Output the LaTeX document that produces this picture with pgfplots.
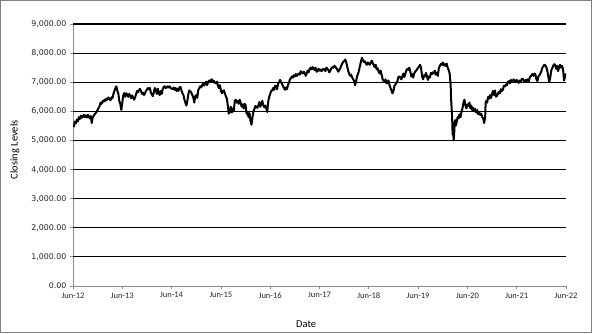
\documentclass[border=0pt]{standalone}
\usepackage{pgfplots}
\pgfplotsset{compat=1.18}
\usepackage{pgfplotstable}
\usepackage{fontspec}
\setmainfont{Carlito}
\newfontfamily\vera{DejaVu Sans}
\pgfplotstableread{
x y
2012.50 5560
2012.52 5480
2012.54 5650
2012.56 5590
2012.58 5720
2012.60 5660
2012.62 5800
2012.64 5740
2012.66 5850
2012.68 5780
2012.70 5820
2012.72 5880
2012.74 5800
2012.76 5860
2012.78 5790
2012.80 5880
2012.82 5820
2012.84 5760
2012.86 5840
2012.88 5600
2012.90 5790
2012.92 5850
2012.94 5900
2012.96 5940
2012.98 5980
2013.00 6050
2013.02 6120
2013.04 6180
2013.06 6300
2013.08 6260
2013.10 6350
2013.12 6330
2013.14 6400
2013.16 6360
2013.18 6440
2013.20 6400
2013.22 6480
2013.24 6420
2013.26 6380
2013.28 6480
2013.30 6450
2013.32 6600
2013.34 6700
2013.36 6800
2013.38 6860
2013.40 6700
2013.42 6600
2013.44 6350
2013.46 6250
2013.48 6050
2013.50 6300
2013.52 6550
2013.54 6630
2013.56 6500
2013.58 6620
2013.60 6580
2013.62 6500
2013.64 6600
2013.66 6540
2013.68 6450
2013.70 6550
2013.72 6470
2013.74 6400
2013.76 6480
2013.78 6600
2013.80 6700
2013.82 6650
2013.84 6740
2013.86 6770
2013.88 6690
2013.90 6600
2013.92 6640
2013.94 6560
2013.96 6620
2013.98 6700
2014.00 6750
2014.02 6800
2014.04 6760
2014.06 6800
2014.08 6640
2014.10 6580
2014.12 6520
2014.14 6660
2014.16 6800
2014.18 6720
2014.20 6600
2014.22 6780
2014.24 6620
2014.26 6560
2014.28 6700
2014.30 6600
2014.32 6760
2014.34 6840
2014.36 6860
2014.38 6800
2014.40 6820
2014.42 6860
2014.44 6820
2014.46 6860
2014.48 6800
2014.50 6780
2014.52 6760
2014.54 6820
2014.56 6740
2014.58 6800
2014.60 6700
2014.62 6780
2014.64 6700
2014.66 6820
2014.68 6840
2014.70 6720
2014.72 6620
2014.74 6560
2014.76 6400
2014.78 6300
2014.80 6200
2014.82 6360
2014.84 6600
2014.86 6720
2014.88 6680
2014.90 6640
2014.92 6560
2014.94 6480
2014.96 6300
2014.98 6520
2015.00 6560
2015.02 6460
2015.04 6720
2015.06 6800
2015.08 6860
2015.10 6820
2015.12 6900
2015.14 6960
2015.16 6880
2015.18 6960
2015.20 7020
2015.22 6900
2015.24 7000
2015.26 7060
2015.28 7000
2015.30 7080
2015.32 7100
2015.34 7000
2015.36 7040
2015.38 6980
2015.40 6960
2015.42 7020
2015.44 6880
2015.46 6800
2015.48 6900
2015.50 6720
2015.52 6620
2015.54 6700
2015.56 6720
2015.58 6620
2015.60 6520
2015.62 6440
2015.64 6200
2015.66 5920
2015.68 6000
2015.70 6160
2015.72 5960
2015.74 6100
2015.76 6000
2015.78 6340
2015.80 6400
2015.82 6300
2015.84 6360
2015.86 6260
2015.88 6400
2015.90 6300
2015.92 6160
2015.94 6240
2015.96 6100
2015.98 6260
2016.00 6220
2016.02 5920
2016.04 5980
2016.06 5800
2016.08 5940
2016.10 5680
2016.12 5540
2016.14 5780
2016.16 6000
2016.18 6080
2016.20 6180
2016.22 6160
2016.24 6120
2016.26 6200
2016.28 6320
2016.30 6160
2016.32 6260
2016.34 6360
2016.36 6200
2016.38 6140
2016.40 6200
2016.42 6100
2016.44 5980
2016.46 6340
2016.48 6500
2016.50 6600
2016.52 6700
2016.54 6720
2016.56 6800
2016.58 6740
2016.60 6880
2016.62 6860
2016.64 6760
2016.66 6960
2016.68 7000
2016.70 7080
2016.72 7000
2016.74 6940
2016.76 6860
2016.78 6800
2016.80 6740
2016.82 6820
2016.84 6760
2016.86 6900
2016.88 6980
2016.90 7100
2016.92 7140
2016.94 7200
2016.96 7160
2016.98 7240
2017.00 7200
2017.02 7280
2017.04 7220
2017.06 7260
2017.08 7300
2017.10 7260
2017.12 7380
2017.14 7320
2017.16 7300
2017.18 7360
2017.20 7320
2017.22 7220
2017.24 7300
2017.26 7400
2017.28 7340
2017.30 7460
2017.32 7500
2017.34 7440
2017.36 7520
2017.38 7480
2017.40 7420
2017.42 7500
2017.44 7360
2017.46 7380
2017.48 7460
2017.50 7400
2017.52 7440
2017.54 7380
2017.56 7420
2017.58 7460
2017.60 7440
2017.62 7380
2017.64 7500
2017.66 7460
2017.68 7420
2017.70 7340
2017.72 7400
2017.74 7480
2017.76 7520
2017.78 7500
2017.80 7560
2017.82 7540
2017.84 7480
2017.86 7440
2017.88 7360
2017.90 7420
2017.92 7480
2017.94 7560
2017.96 7640
2017.98 7700
2018.00 7720
2018.02 7780
2018.04 7700
2018.06 7560
2018.08 7400
2018.10 7300
2018.12 7220
2018.14 7260
2018.16 7180
2018.18 7100
2018.20 7060
2018.22 6900
2018.24 7000
2018.26 7200
2018.28 7280
2018.30 7400
2018.32 7560
2018.34 7700
2018.36 7840
2018.38 7760
2018.40 7700
2018.42 7720
2018.44 7640
2018.46 7600
2018.48 7680
2018.50 7640
2018.52 7600
2018.54 7680
2018.56 7740
2018.58 7660
2018.60 7580
2018.62 7520
2018.64 7600
2018.66 7440
2018.68 7480
2018.70 7360
2018.72 7300
2018.74 7400
2018.76 7260
2018.78 7100
2018.80 7040
2018.82 7020
2018.84 7100
2018.86 6960
2018.88 7000
2018.90 7060
2018.92 6900
2018.94 6800
2018.96 6720
2018.98 6620
2019.00 6700
2019.02 6880
2019.04 6920
2019.06 6980
2019.08 7040
2019.10 7180
2019.12 7200
2019.14 7160
2019.16 7100
2019.18 7200
2019.20 7300
2019.22 7180
2019.24 7280
2019.26 7400
2019.28 7460
2019.30 7420
2019.32 7500
2019.34 7380
2019.36 7200
2019.38 7280
2019.40 7160
2019.42 7300
2019.44 7360
2019.46 7400
2019.48 7440
2019.50 7500
2019.52 7540
2019.54 7600
2019.56 7500
2019.58 7200
2019.60 7100
2019.62 7240
2019.64 7200
2019.66 7320
2019.68 7200
2019.70 7080
2019.72 7200
2019.74 7160
2019.76 7320
2019.78 7280
2019.80 7340
2019.82 7300
2019.84 7400
2019.86 7260
2019.88 7320
2019.90 7220
2019.92 7480
2019.94 7560
2019.96 7620
2019.98 7600
2020.00 7680
2020.02 7580
2020.04 7620
2020.06 7560
2020.08 7640
2020.10 7500
2020.12 7420
2020.14 7300
2020.16 6900
2020.17 6400
2020.18 6100
2020.19 5800
2020.20 5200
2020.21 5500
2020.22 5000
2020.23 5150
2020.24 5600
2020.25 5700
2020.26 5500
2020.28 5600
2020.30 5800
2020.32 5760
2020.34 5900
2020.36 5800
2020.38 6000
2020.40 6100
2020.42 6300
2020.44 6400
2020.46 6200
2020.48 6100
2020.50 6240
2020.52 6180
2020.54 6300
2020.56 6100
2020.58 6200
2020.60 6040
2020.62 6120
2020.64 6000
2020.66 6080
2020.68 5960
2020.70 6040
2020.72 5900
2020.74 5960
2020.76 5880
2020.78 5920
2020.80 5800
2020.82 5760
2020.84 5600
2020.86 5800
2020.87 6300
2020.88 6360
2020.90 6300
2020.92 6500
2020.94 6440
2020.96 6560
2020.98 6460
2021.00 6600
2021.02 6700
2021.04 6560
2021.06 6720
2021.08 6500
2021.10 6540
2021.12 6600
2021.14 6680
2021.16 6620
2021.18 6760
2021.20 6700
2021.22 6740
2021.24 6880
2021.26 6860
2021.28 6920
2021.30 6900
2021.32 7000
2021.34 7040
2021.36 6960
2021.38 7080
2021.40 7000
2021.42 7060
2021.44 7100
2021.46 7040
2021.48 7000
2021.50 7080
2021.52 7020
2021.54 6980
2021.56 7060
2021.58 7000
2021.60 7100
2021.62 7120
2021.64 7060
2021.66 7000
2021.68 7080
2021.70 7040
2021.72 7100
2021.74 7000
2021.76 7140
2021.78 7200
2021.80 7240
2021.82 7280
2021.84 7220
2021.86 7300
2021.88 7260
2021.90 7100
2021.92 7040
2021.94 7200
2021.96 7240
2021.98 7300
2022.00 7380
2022.02 7500
2022.04 7540
2022.06 7600
2022.08 7580
2022.10 7520
2022.12 7400
2022.14 7200
2022.16 7000
2022.18 7160
2022.20 7400
2022.22 7480
2022.24 7560
2022.26 7620
2022.28 7600
2022.30 7460
2022.32 7560
2022.34 7380
2022.36 7520
2022.38 7600
2022.40 7500
2022.42 7560
2022.44 7440
2022.46 7060
2022.48 7200
2022.50 7300
}\ftse
\begin{document}
\begin{tikzpicture}[x=1bp,y=1bp]
\useasboundingbox (0,0) rectangle (592,333);
\draw[black!50, line width=1bp] (0.5,0.5) rectangle (591.5,332.5);
\begin{axis}[
  at={(73bp,47bp)}, anchor=south west,
  scale only axis, width=493bp, height=262bp,
  xmin=2012.5, xmax=2022.5, ymin=0, ymax=9000,
  axis x line*=bottom, axis y line*=left,
  xtick={2012.5,2013.5,2014.5,2015.5,2016.5,2017.5,2018.5,2019.5,2020.5,2021.5,2022.5},
  xticklabels={Jun-12,Jun-13,Jun-14,Jun-15,Jun-16,Jun-17,Jun-18,Jun-19,Jun-20,Jun-21,Jun-22},
  ytick={0,1000,2000,3000,4000,5000,6000,7000,8000,9000},
  scaled y ticks=false,
  extra y ticks={1000,2000,3000,4000,5000,6000,7000,8000,9000},
  extra y tick labels={},
  extra y tick style={grid=major, major tick length=0pt},
  major grid style={black, line width=1.1bp},
  axis line style={black!45, line width=0.9bp},
  tick style={black!45, line width=0.8bp}, major tick length=3bp, tick align=outside,
  x tick label style={font=\fontsize{8.5}{9}\selectfont, text=black!85},
  y tick label style={font=\vera\fontsize{7.9}{9}\selectfont, text=black!85,
    /pgf/number format/.cd, fixed, fixed zerofill, precision=2, 1000 sep={,}, assume math mode=true},
  xlabel={Date}, ylabel={Closing Levels},
  label style={font=\fontsize{10.5}{12}\selectfont},
  xlabel style={at={(rel axis cs:0.473,0)}, anchor=center, yshift=-38bp},
  ylabel style={at={(rel axis cs:0,0.52)}, anchor=center, yshift=58bp},
]
\addplot[black, line width=2bp, line join=round] table[x=x, y=y] {\ftse};
\end{axis}
\end{tikzpicture}
\end{document}
